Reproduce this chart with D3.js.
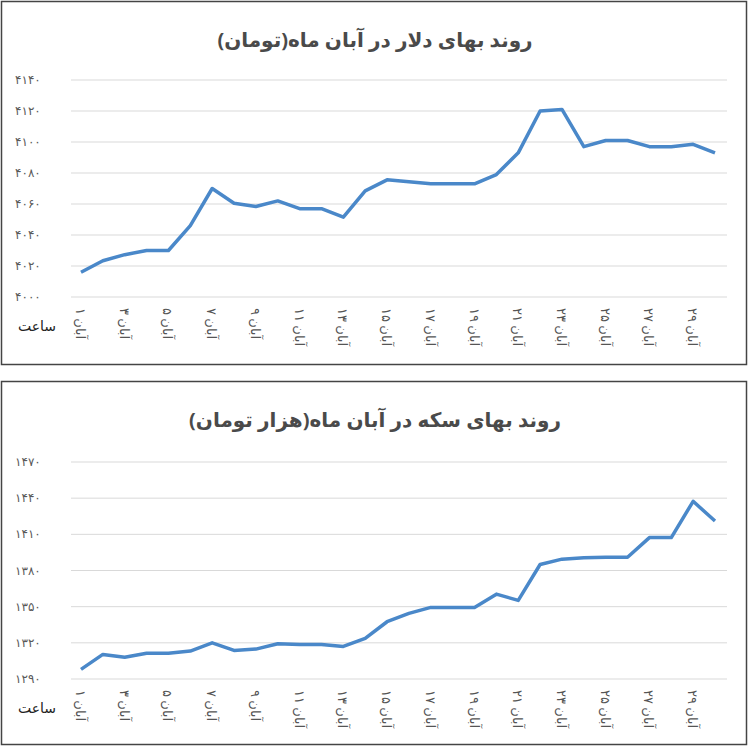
<!DOCTYPE html>
<html><head><meta charset="utf-8">
<script src="https://cdn.jsdelivr.net/npm/d3@7"></script>
<style>body{margin:0;background:#fff;font-family:"Noto Sans","DejaVu Sans",sans-serif}</style>
</head><body><svg id="c" width="750" height="748"></svg>
<script>
const days = d3.range(1, 31);
const dollarValues = [4016,4023.4,4027.3,4030,4030,4046,4070,4060.5,4058.4,4062,4057,4057,4051.5,4068.5,4075.6,4074.3,4073,4073,4073,4079,4093,4120,4121,4097,4101,4101,4097,4097,4098.5,4093];
const coinValues = [1298,1310.4,1308,1311.3,1311.3,1313.2,1320,1313.7,1314.8,1319.3,1318.7,1318.7,1317,1323.7,1337.5,1344.4,1349.4,1349.4,1349.4,1360.4,1355.2,1385,1389.4,1390.5,1391,1391,1407.3,1407.3,1437.4,1421];
const dollarTicks = [4000,4020,4040,4060,4080,4100,4120,4140];
const coinTicks = [1290,1320,1350,1380,1410,1440,1470];
const titles = ["روند بهای دلار در آبان ماه(تومان)", "روند بهای سکه در آبان ماه(هزار تومان)"];
const month = "آبان";
const xUnit = "ساعت";

const fa = n => String(n).replace(/\d/g, d => "۰۱۲۳۴۵۶۷۸۹"[d]);
const svg = d3.select("#c");

function panel(top, values, ticks, title) {
  const g = svg.append("g").attr("transform", `translate(0,${top})`);
  g.append("rect").attr("x",1.5).attr("y",1.5).attr("width",745).attr("height",363)
    .attr("fill","#fff").attr("stroke","#444").attr("stroke-width",1.5);
  g.append("text").attr("x",375).attr("y",47).attr("text-anchor","middle")
    .attr("font-size",20).attr("font-weight","bold").attr("fill","#4a4a4a").text(title);
  const y = d3.scaleLinear().domain([ticks[0], ticks[ticks.length-1]]).range([top===0?297:299, top===0?80:82]);
  const x = d3.scalePoint().domain(days).range([81, 715]);
  const yr = y.range();
  g.selectAll(".grid").data(ticks).enter().append("line")
    .attr("x1",71).attr("x2",727).attr("y1",d=>y(d)).attr("y2",d=>y(d))
    .attr("stroke","#d9d9d9").attr("stroke-width",1);
  g.selectAll(".yl").data(ticks).enter().append("text")
    .attr("x",15).attr("y",d=>y(d)+4).attr("font-size",12).attr("fill","#595959")
    .attr("direction","ltr").text(d=>fa(d));
  g.selectAll(".xl").data(days.filter(d=>d%2===1)).enter().append("text")
    .attr("transform", d=>`translate(${x(d)-5},${yr[0]+11}) rotate(90)`)
    .attr("font-size",13).attr("fill","#555").attr("text-anchor","start")
    .text(d=>month+" "+fa(d));
  g.append("text").attr("x",18).attr("y",yr[0]+34).attr("font-size",14).attr("fill","#222").text(xUnit);
  g.append("path").datum(values)
    .attr("d", d3.line().x((d,i)=>x(days[i])).y(d=>y(d)))
    .attr("fill","none").attr("stroke","#4a88c9").attr("stroke-width",3.5).attr("stroke-linejoin","round");
}
panel(0, dollarValues, dollarTicks, titles[0]);
panel(380, coinValues, coinTicks, titles[1]);
</script></body></html>
